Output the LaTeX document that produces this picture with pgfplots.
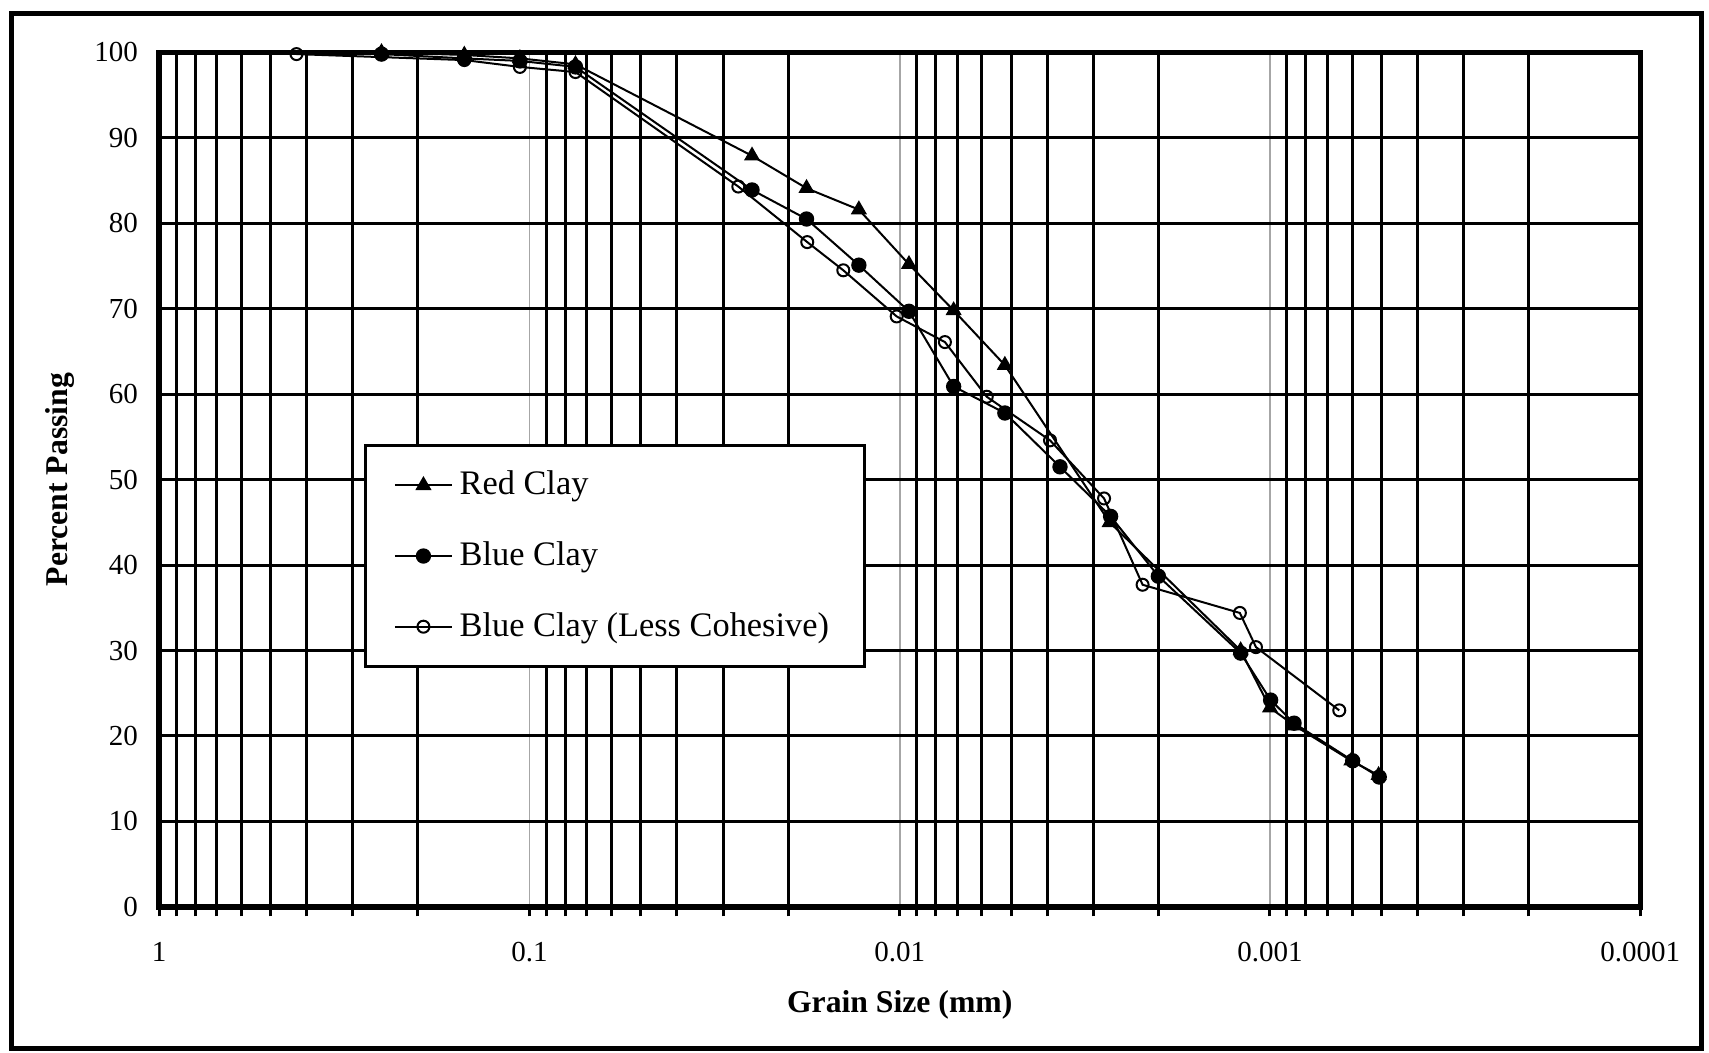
\documentclass[border=0pt]{standalone}
\usepackage{fontspec}
\setmainfont{Liberation Serif}
\usepackage{pgfplots}
\pgfplotsset{compat=1.18}
\begin{document}
\begin{tikzpicture}
\useasboundingbox (0,0) rectangle (18cm,11.09cm);
\draw[line width=1.6pt] (0.12cm,0.05cm) rectangle (17.92cm,10.95cm);
\begin{axis}[
  at={(1.676cm,1.538cm)}, anchor=south west,
  scale only axis, width=15.6cm, height=9cm,
  xmode=log, x dir=reverse, xmin=0.0001, xmax=1,
  ymin=0, ymax=100,
  xtick={1,0.1,0.01,0.001,0.0001},
  xticklabels={1,0.1,0.01,0.001,0.0001},
  minor xtick={0.0002,0.0003,0.0004,0.0005,0.0006,0.0007,0.0008,0.0009,
    0.002,0.003,0.004,0.005,0.006,0.007,0.008,0.009,
    0.02,0.03,0.04,0.05,0.06,0.07,0.08,0.09,
    0.2,0.3,0.4,0.5,0.6,0.7,0.8,0.9},
  ytick={0,10,20,30,40,50,60,70,80,90,100},
  yticklabels={0,10,20,30,40,50,60,70,80,90,100},
  grid=both,
  major x grid style={line width=0.5pt, black!35},
  minor x grid style={line width=0.9pt, black},
  major y grid style={line width=0.9pt, black},
  axis line style={line width=1.6pt},
  tick align=outside,
  xtick pos=bottom,
  ytick pos=left,
  major tick length=0.1cm, minor tick length=0.1cm,
  xtick style={line width=0.9pt, black},
  xminorticks=true,
  ytick style={draw=none},
  ticklabel style={font=\fontsize{8.7}{10}\selectfont},
  yticklabel style={xshift=0cm},
  xticklabel style={yshift=-0.15cm},
  xlabel={Grain Size (mm)},
  ylabel={Percent Passing},
  label style={font=\fontsize{9.5}{11}\selectfont\bfseries},
  xlabel style={at={(axis description cs:0.5,-0.1144)}, anchor=center},
  ylabel style={at={(axis description cs:-0.0667,0.5)}, anchor=center},
  legend cell align=left,
  legend style={at={(rel axis cs:0.1383,0.542)}, anchor=north west,
    draw=black, line width=0.9pt, inner xsep=0.3cm, inner ysep=0.2cm,
    row sep=0.3cm, font=\fontsize{10.3}{12}\selectfont},
]
\addplot[black, line width=0.6pt, mark=triangle*, mark size=2.4pt, mark options={solid, line width=0.4pt}] coordinates {
(0.2509,100) (0.1499,99.7) (0.1061,99.3) (0.0751,98.6)
(0.02505,87.9) (0.01785,84.1) (0.01289,81.6) (0.00944,75.2)
(0.00715,69.8) (0.00520,63.4) (0.00271,45.0) (0.00120,30.0)
(0.00100,23.3) (0.000857,21.2) (0.000603,17.1) (0.000509,15.4)
};
\addlegendentry{Red Clay}
\addplot[black, line width=0.6pt, mark=*, mark size=2.1pt, mark options={solid, line width=0.4pt}] coordinates {
(0.2509,99.8) (0.1499,99.3) (0.1061,99.0) (0.0751,98.3)
(0.02505,83.9) (0.01785,80.5) (0.01289,75.1) (0.00944,69.7)
(0.00715,60.9) (0.00520,57.8) (0.003691,51.5) (0.002694,45.7)
(0.002002,38.7) (0.00120,29.7) (0.000996,24.2) (0.000861,21.5)
(0.000598,17.1) (0.000507,15.2)
};
\addlegendentry{Blue Clay}
\addplot[black, line width=0.6pt, mark=o, mark size=1.8pt, mark options={solid, line width=0.6pt, fill=white}] coordinates {
(0.4257,99.8) (0.1499,99.1) (0.1061,98.3) (0.0751,97.7)
(0.02728,84.3) (0.01777,77.8) (0.01420,74.5) (0.01019,69.1)
(0.00755,66.1) (0.00582,59.7) (0.003927,54.6) (0.002806,47.8)
(0.002208,37.7) (0.001206,34.4) (0.001091,30.4) (0.00065,23.0)
};
\addlegendentry{Blue Clay (Less Cohesive)}
\end{axis}
\end{tikzpicture}
\end{document}
